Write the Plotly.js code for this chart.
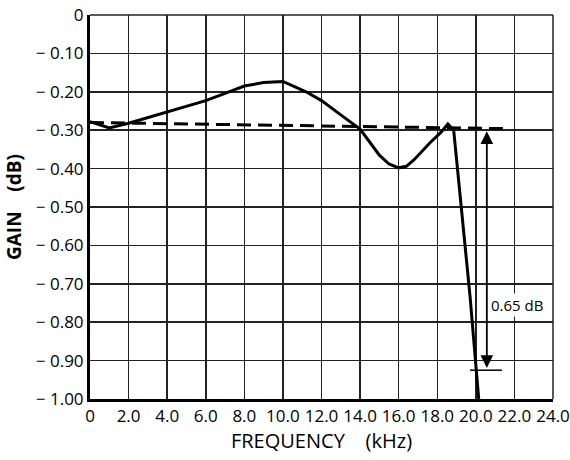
<!DOCTYPE html>
<html>
<head>
<meta charset="utf-8">
<script src="https://cdn.plot.ly/plotly-3.0.1.min.js"></script>
<style>html,body{margin:0;padding:0;background:#fff}#chart{width:570px;height:460px}</style>
</head>
<body>
<div id="chart"></div>
<script>
// Solid response curve
const freqSolid = [0, 1.0, 2.0, 4.0, 6.0, 7.0, 8.0, 9.0, 10.0, 11.2, 12.0, 13.0, 14.0, 15.0, 15.5, 16.0, 16.4, 16.8, 17.6, 18.2, 18.55, 18.85, 19.7, 20.15];
const gainSolid = [-0.278, -0.294, -0.282, -0.253, -0.223, -0.204, -0.185, -0.176, -0.173, -0.200, -0.223, -0.260, -0.297, -0.365, -0.388, -0.398, -0.394, -0.377, -0.334, -0.305, -0.284, -0.299, -0.733, -1.0];
// Dashed reference line
const freqDash = [0, 6.0, 12.0, 18.0, 21.6];
const gainDash = [-0.280, -0.284, -0.289, -0.293, -0.296];
// 0.65 dB marker
const markerFreq = [19.7, 21.35];
const markerGain = [-0.925, -0.925];
const arrowFreq = 20.57;
const arrowTop = -0.303;
const arrowBottom = -0.923;
const arrowLabel = '0.65 dB';
const labelFreq = 20.7;
const labelGain = -0.755;
// Ticks
const xTickVals = [0, 2, 4, 6, 8, 10, 12, 14, 16, 18, 20, 22, 24];
const xTickText = ['0', '2.0', '4.0', '6.0', '8.0', '10.0', '12.0', '14.0', '16.0', '18.0', '20.0', '22.0', '24.0'];
const yTickVals = [0, -0.1, -0.2, -0.3, -0.4, -0.5, -0.6, -0.7, -0.8, -0.9, -1.0];
const yTickText = ['0', '\u2212 0.10', '\u2212 0.20', '\u2212 0.30', '\u2212 0.40', '\u2212 0.50', '\u2212 0.60', '\u2212 0.70', '\u2212 0.80', '\u2212 0.90', '\u2212 1.00'];

const FONT = 'Open Sans, Noto Sans, DejaVu Sans, sans-serif';

const traces = [
  {x: freqDash, y: gainDash, mode: 'lines', line: {color: '#000', width: 3, dash: '14px,7px'}, hoverinfo: 'skip'},
  {x: freqSolid, y: gainSolid, mode: 'lines', line: {color: '#000', width: 3}, hoverinfo: 'skip'},
  {x: markerFreq, y: markerGain, mode: 'lines', line: {color: '#000', width: 1.5}, hoverinfo: 'skip'}
];

const layout = {
  width: 570, height: 460,
  margin: {l: 90, r: 17, t: 15, b: 61},
  paper_bgcolor: '#fff', plot_bgcolor: '#fff',
  showlegend: false,
  font: {family: FONT, color: '#000', size: 17},
  xaxis: {
    range: [0, 24], tickvals: xTickVals, ticktext: xTickText,
    showgrid: true, gridcolor: '#222', gridwidth: 1.5,
    showline: true, linecolor: '#000', linewidth: 3,
    zeroline: false, ticks: '', ticklen: 0,
    tickfont: {family: FONT, size: 17, color: '#000'},
    title: {text: 'FREQUENCY    (kHz)', font: {family: FONT, size: 20, color: '#000'}, standoff: 8}
  },
  yaxis: {
    range: [-1.0, 0], tickvals: yTickVals, ticktext: yTickText,
    showgrid: true, gridcolor: '#222', gridwidth: 1.5,
    showline: true, linecolor: '#000', linewidth: 3,
    zeroline: false, ticks: '', ticklen: 0,
    tickfont: {family: FONT, size: 17, color: '#000'},
    title: {text: '<b>GAIN    (dB)</b>', font: {family: FONT, size: 19, color: '#000'}, standoff: 10}
  },
  shapes: [
    {type: 'line', xref: 'paper', yref: 'paper', x0: 0, x1: 1, y0: 1, y1: 1, line: {color: '#222', width: 1.5}},
    {type: 'line', xref: 'paper', yref: 'paper', x0: 1, x1: 1, y0: 0, y1: 1, line: {color: '#222', width: 1.5}}
  ],
  annotations: [
    {x: arrowFreq, y: arrowTop, ax: arrowFreq, ay: arrowBottom, xref: 'x', yref: 'y', axref: 'x', ayref: 'y',
     text: '', showarrow: true, arrowhead: 2, arrowside: 'end+start', arrowsize: 1.4, arrowwidth: 1.8, arrowcolor: '#000', standoff: 0, startstandoff: 0},
    {x: labelFreq, y: labelGain, xref: 'x', yref: 'y', text: arrowLabel, showarrow: false, xanchor: 'left',
     bgcolor: '#fff', borderpad: 1, font: {family: FONT, size: 15, color: '#000'}}
  ]
};

Plotly.newPlot('chart', traces, layout, {staticPlot: true, displayModeBar: false});
</script>
</body>
</html>
